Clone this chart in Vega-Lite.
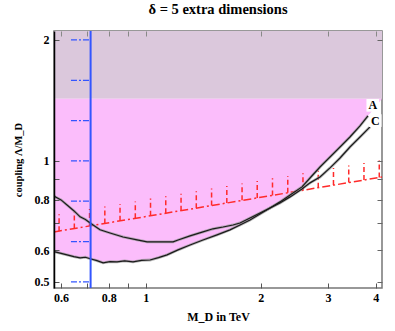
{
  "$schema": "https://vega.github.io/schema/vega-lite/v6.json",
  "width": 328,
  "height": 257,
  "autosize": {"type": "none"},
  "padding": {"left": 54, "top": 31, "right": 13, "bottom": 43},
  "background": "white",
  "config": {
    "view": {"stroke": "#777", "strokeWidth": 1.5},
    "font": "Liberation Serif"
  },
  "title": {
    "text": "δ = 5 extra dimensions",
    "font": "Liberation Serif",
    "fontSize": 14.5,
    "fontWeight": "bold",
    "color": "black",
    "offset": 13
  },
  "datasets": {
    "band": [{"x": 0.575, "x2": 4.155, "y": 1.427, "y2": 2.105}],
    "pink": [
      {"x": 0.575, "y": 0.596}, {"x": 0.579, "y": 0.594}, {"x": 0.6, "y": 0.589}, {"x": 0.622, "y": 0.584},
      {"x": 0.648, "y": 0.578}, {"x": 0.673, "y": 0.574}, {"x": 0.695, "y": 0.576}, {"x": 0.715, "y": 0.571},
      {"x": 0.745, "y": 0.565}, {"x": 0.773, "y": 0.558}, {"x": 0.806, "y": 0.562}, {"x": 0.841, "y": 0.561},
      {"x": 0.88, "y": 0.564}, {"x": 0.926, "y": 0.561}, {"x": 0.975, "y": 0.566}, {"x": 1.026, "y": 0.567},
      {"x": 1.08, "y": 0.575}, {"x": 1.137, "y": 0.584}, {"x": 1.215, "y": 0.601}, {"x": 1.306, "y": 0.618},
      {"x": 1.412, "y": 0.636}, {"x": 1.537, "y": 0.655}, {"x": 1.662, "y": 0.674}, {"x": 1.765, "y": 0.693},
      {"x": 1.875, "y": 0.713}, {"x": 1.991, "y": 0.738}, {"x": 2.115, "y": 0.764}, {"x": 2.246, "y": 0.791},
      {"x": 2.387, "y": 0.823}, {"x": 2.565, "y": 0.862}, {"x": 2.692, "y": 0.907}, {"x": 2.859, "y": 0.966},
      {"x": 3.037, "y": 1.023}, {"x": 3.226, "y": 1.083}, {"x": 3.425, "y": 1.147}, {"x": 3.639, "y": 1.222},
      {"x": 3.818, "y": 1.294}, {"x": 4.155, "y": 1.427}
    ],
    "curves": [
      {"s": "A", "x": 0.575, "y": 0.596}, {"s": "A", "x": 0.579, "y": 0.594}, {"s": "A", "x": 0.6, "y": 0.589}, {"s": "A", "x": 0.622, "y": 0.584},
      {"s": "A", "x": 0.648, "y": 0.578}, {"s": "A", "x": 0.673, "y": 0.574}, {"s": "A", "x": 0.695, "y": 0.576}, {"s": "A", "x": 0.715, "y": 0.571},
      {"s": "A", "x": 0.745, "y": 0.565}, {"s": "A", "x": 0.773, "y": 0.558}, {"s": "A", "x": 0.806, "y": 0.562}, {"s": "A", "x": 0.841, "y": 0.561},
      {"s": "A", "x": 0.88, "y": 0.564}, {"s": "A", "x": 0.926, "y": 0.561}, {"s": "A", "x": 0.975, "y": 0.566}, {"s": "A", "x": 1.026, "y": 0.567},
      {"s": "A", "x": 1.08, "y": 0.575}, {"s": "A", "x": 1.137, "y": 0.584}, {"s": "A", "x": 1.215, "y": 0.601}, {"s": "A", "x": 1.306, "y": 0.618},
      {"s": "A", "x": 1.412, "y": 0.636}, {"s": "A", "x": 1.537, "y": 0.655}, {"s": "A", "x": 1.662, "y": 0.674}, {"s": "A", "x": 1.765, "y": 0.693},
      {"s": "A", "x": 1.875, "y": 0.713}, {"s": "A", "x": 1.991, "y": 0.738}, {"s": "A", "x": 2.115, "y": 0.764}, {"s": "A", "x": 2.246, "y": 0.791},
      {"s": "A", "x": 2.387, "y": 0.823}, {"s": "A", "x": 2.565, "y": 0.862}, {"s": "A", "x": 2.692, "y": 0.907}, {"s": "A", "x": 2.859, "y": 0.966},
      {"s": "A", "x": 3.037, "y": 1.023}, {"s": "A", "x": 3.226, "y": 1.083}, {"s": "A", "x": 3.425, "y": 1.147}, {"s": "A", "x": 3.639, "y": 1.222},
      {"s": "A", "x": 3.818, "y": 1.294},
      {"s": "C", "x": 0.575, "y": 0.82}, {"s": "C", "x": 0.579, "y": 0.814}, {"s": "C", "x": 0.6, "y": 0.8}, {"s": "C", "x": 0.622, "y": 0.777},
      {"s": "C", "x": 0.649, "y": 0.751}, {"s": "C", "x": 0.673, "y": 0.726}, {"s": "C", "x": 0.695, "y": 0.715}, {"s": "C", "x": 0.715, "y": 0.701},
      {"s": "C", "x": 0.759, "y": 0.674}, {"s": "C", "x": 0.806, "y": 0.662}, {"s": "C", "x": 0.872, "y": 0.647}, {"s": "C", "x": 0.949, "y": 0.636},
      {"s": "C", "x": 1.008, "y": 0.629}, {"s": "C", "x": 1.11, "y": 0.629}, {"s": "C", "x": 1.179, "y": 0.629}, {"s": "C", "x": 1.215, "y": 0.636},
      {"s": "C", "x": 1.306, "y": 0.651}, {"s": "C", "x": 1.412, "y": 0.666}, {"s": "C", "x": 1.5, "y": 0.678}, {"s": "C", "x": 1.594, "y": 0.685},
      {"s": "C", "x": 1.692, "y": 0.693}, {"s": "C", "x": 1.765, "y": 0.701}, {"s": "C", "x": 1.875, "y": 0.721}, {"s": "C", "x": 1.991, "y": 0.742},
      {"s": "C", "x": 2.115, "y": 0.764}, {"s": "C", "x": 2.246, "y": 0.786}, {"s": "C", "x": 2.387, "y": 0.814}, {"s": "C", "x": 2.565, "y": 0.852},
      {"s": "C", "x": 2.692, "y": 0.882}, {"s": "C", "x": 2.859, "y": 0.912}, {"s": "C", "x": 3.037, "y": 0.961}, {"s": "C", "x": 3.226, "y": 1.017},
      {"s": "C", "x": 3.425, "y": 1.083}, {"s": "C", "x": 3.639, "y": 1.147}, {"s": "C", "x": 3.865, "y": 1.215}
    ],
    "redline": [{"x": 0.575, "y": 0.666}, {"x": 4.155, "y": 0.912}],
    "hatch": [
      {"x": 0.5929, "y": 0.669, "y2": 0.737}, {"x": 0.65, "y": 0.679, "y2": 0.748}, {"x": 0.7125, "y": 0.689, "y2": 0.759},
      {"x": 0.7812, "y": 0.699, "y2": 0.77}, {"x": 0.8562, "y": 0.71, "y2": 0.782}, {"x": 0.9388, "y": 0.72, "y2": 0.793},
      {"x": 1.029, "y": 0.731, "y2": 0.806}, {"x": 1.128, "y": 0.741, "y2": 0.817}, {"x": 1.237, "y": 0.752, "y2": 0.829},
      {"x": 1.356, "y": 0.763, "y2": 0.841}, {"x": 1.487, "y": 0.775, "y2": 0.854}, {"x": 1.63, "y": 0.786, "y2": 0.866},
      {"x": 1.787, "y": 0.798, "y2": 0.879}, {"x": 1.958, "y": 0.809, "y2": 0.892}, {"x": 2.147, "y": 0.821, "y2": 0.905},
      {"x": 2.354, "y": 0.833, "y2": 0.918}, {"x": 2.58, "y": 0.846, "y2": 0.932}, {"x": 2.829, "y": 0.858, "y2": 0.946},
      {"x": 3.101, "y": 0.871, "y2": 0.96}, {"x": 3.4, "y": 0.884, "y2": 0.974}, {"x": 3.727, "y": 0.897, "y2": 0.988},
      {"x": 4.087, "y": 0.91, "y2": 1.003}
    ],
    "bluedash": [
      {"x": 0.637, "x2": 0.716, "y": 2.0}, {"x": 0.637, "x2": 0.716, "y": 1.587}, {"x": 0.637, "x2": 0.716, "y": 1.26},
      {"x": 0.637, "x2": 0.716, "y": 1.0}, {"x": 0.637, "x2": 0.716, "y": 0.794}, {"x": 0.637, "x2": 0.716, "y": 0.63},
      {"x": 0.637, "x2": 0.716, "y": 0.5}
    ],
    "bluev": [{"x": 0.717}],
    "labels": [{"t": "A", "x": 3.93, "y": 1.375}, {"t": "C", "x": 3.99, "y": 1.26}]
  },
  "resolve": {"axis": {"x": "independent", "y": "independent"}},
  "layer": [
    {
      "layer": [
        {
          "data": {"name": "band"},
          "mark": {"type": "rect", "color": "#dbc8dc", "clip": true},
          "encoding": {
            "x": {"field": "x", "type": "quantitative",
              "scale": {"type": "log", "domain": [0.575, 4.155], "nice": false},
              "axis": {"orient": "bottom", "values": [0.6, 0.7, 0.8, 0.9, 1, 2, 3, 4], "zindex": 1,
                "labelExpr": "(datum.value > 0.65 && datum.value < 0.75) || (datum.value > 0.85 && datum.value < 0.95) ? '' : datum.label",
                "format": "~g", "tickSize": -5, "tickColor": "#555", "domain": false, "grid": false,
                "labelFont": "Liberation Serif", "labelFontWeight": "bold", "labelFontSize": 12, "labelColor": "black",
                "labelPadding": 9, "labelOverlap": false, "title": "M_D in TeV", "titleFont": "Liberation Serif", "titleFontWeight": "bold",
                "titleFontSize": 12, "titleColor": "black", "titlePadding": 8}},
            "x2": {"field": "x2"},
            "y": {"field": "y", "type": "quantitative",
              "scale": {"type": "log", "domain": [0.483, 2.105], "nice": false},
              "axis": {"orient": "left", "values": [0.5, 0.6, 0.7, 0.8, 0.9, 1, 2], "zindex": 1,
                "labelExpr": "(datum.value > 0.65 && datum.value < 0.75) || (datum.value > 0.85 && datum.value < 0.95) ? '' : datum.label",
                "format": "~g", "tickSize": -5, "tickColor": "#555", "domain": true, "domainColor": "black", "domainWidth": 1.5, "grid": false,
                "labelFont": "Liberation Serif", "labelFontWeight": "bold", "labelFontSize": 12, "labelColor": "black",
                "labelPadding": 10, "labelOverlap": false, "title": "coupling Λ/M_D", "titleFont": "Liberation Serif", "titleFontWeight": "bold",
                "titleFontSize": 10.5, "titleColor": "black", "titlePadding": 11}},
            "y2": {"field": "y2"}
          }
        },
        {
          "data": {"name": "pink"},
          "mark": {"type": "area", "color": "#fbbdfb", "opacity": 1, "clip": true},
          "encoding": {
            "x": {"field": "x", "type": "quantitative"},
            "y": {"field": "y", "type": "quantitative"},
            "y2": {"datum": 1.427}
          }
        },
        {
          "data": {"name": "hatch"},
          "mark": {"type": "rule", "color": "#ff2a2a", "strokeWidth": 1.5, "strokeDash": [5, 3], "clip": true},
          "encoding": {
            "x": {"field": "x", "type": "quantitative"},
            "y": {"field": "y", "type": "quantitative"},
            "y2": {"field": "y2"}
          }
        },
        {
          "data": {"name": "redline"},
          "mark": {"type": "line", "color": "#ff2a2a", "strokeWidth": 1.5, "strokeDash": [8, 3, 2, 3], "clip": true},
          "encoding": {
            "x": {"field": "x", "type": "quantitative"},
            "y": {"field": "y", "type": "quantitative"}
          }
        },
        {
          "data": {"name": "curves"},
          "mark": {"type": "line", "color": "#999", "strokeWidth": 2.8, "opacity": 0.7, "clip": true},
          "encoding": {
            "x": {"field": "x", "type": "quantitative"},
            "y": {"field": "y", "type": "quantitative"},
            "detail": {"field": "s"}
          }
        },
        {
          "data": {"name": "curves"},
          "mark": {"type": "line", "color": "#1a1a1a", "strokeWidth": 1.2, "clip": true},
          "encoding": {
            "x": {"field": "x", "type": "quantitative"},
            "y": {"field": "y", "type": "quantitative"},
            "detail": {"field": "s"}
          }
        },
        {
          "data": {"name": "bluedash"},
          "mark": {"type": "rule", "color": "#3355ff", "strokeWidth": 1.3, "strokeDash": [6, 2, 2, 2], "clip": true},
          "encoding": {
            "x": {"field": "x", "type": "quantitative"},
            "x2": {"field": "x2"},
            "y": {"field": "y", "type": "quantitative"}
          }
        },
        {
          "data": {"name": "bluev"},
          "mark": {"type": "rule", "color": "#3355ff", "strokeWidth": 2},
          "encoding": {
            "x": {"field": "x", "type": "quantitative"}
          }
        },
        {
          "data": {"name": "labels"},
          "mark": {"type": "square", "color": "white", "filled": true, "opacity": 1, "size": 160},
          "encoding": {
            "x": {"field": "x", "type": "quantitative"},
            "y": {"field": "y", "type": "quantitative"}
          }
        },
        {
          "data": {"name": "labels"},
          "mark": {"type": "text", "font": "Liberation Serif", "fontWeight": "bold", "fontSize": 12, "color": "black", "baseline": "middle", "align": "center"},
          "encoding": {
            "x": {"field": "x", "type": "quantitative"},
            "y": {"field": "y", "type": "quantitative"},
            "text": {"field": "t"}
          }
        }
      ]
    },
    {
      "data": {"name": "labels"},
      "mark": {"type": "point", "opacity": 0},
      "encoding": {
        "x": {"field": "x", "type": "quantitative",
          "axis": {"orient": "top", "values": [0.6, 0.7, 0.8, 0.9, 1, 2, 3, 4], "zindex": 1, "labels": false, "tickSize": -5, "tickColor": "#888", "domain": false, "title": null, "grid": false}},
        "y": {"field": "y", "type": "quantitative",
          "axis": {"orient": "right", "values": [0.5, 0.6, 0.7, 0.8, 0.9, 1, 2], "zindex": 1, "labels": false, "tickSize": -5, "tickColor": "#666", "domain": false, "title": null, "grid": false}}
      }
    }
  ]
}
